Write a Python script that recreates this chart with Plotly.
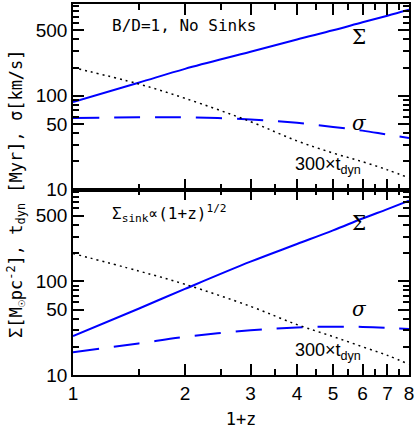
import plotly.graph_objects as go

# 1+z sample points
opz = [1, 1.5, 2, 3, 4, 5, 6, 7, 8]

# top panel: B/D=1, no sinks
sigma_gas_top = [86, 138, 194, 295, 400, 500, 610, 716, 830]
disp_top = [58, 59, 59, 56, 51.5, 46.5, 42.5, 38.5, 35.5]
tdyn_top = [200, 134, 94, 53, 33, 24.5, 19.8, 16.2, 13.3]

# bottom panel: sink ~ (1+z)^1/2
sigma_gas_bot = [26, 51, 83, 162, 250, 350, 468, 590, 725]
disp_bot = [17.5, 21.7, 25.5, 30, 32.2, 32.8, 32.6, 31.9, 31]
tdyn_bot = [198, 129, 93, 54, 34.5, 25.7, 20, 16.2, 13]

y_ticks = [10, 50, 100, 500]
y_minor = [20, 30, 40, 60, 70, 80, 90, 200, 300, 400, 600, 700, 800, 900]
x_ticks = [1, 2, 3, 4, 5, 6, 7, 8]
x_minor = [1.5, 2.5, 3.5, 4.5, 5.5, 6.5, 7.5]

BLUE = "#0000ff"
MONO = "DejaVu Sans Mono"
SANS = "Liberation Sans"

fig = go.Figure()

panels = [
    ("x", "y", sigma_gas_top, disp_top, tdyn_top),
    ("x2", "y2", sigma_gas_bot, disp_bot, tdyn_bot),
]
for xa, ya, sg, sd, td in panels:
    fig.add_trace(go.Scatter(x=opz, y=sg, mode="lines", xaxis=xa, yaxis=ya,
                             line=dict(color=BLUE, width=2, shape="spline")))
    fig.add_trace(go.Scatter(x=opz, y=sd, mode="lines", xaxis=xa, yaxis=ya,
                             line=dict(color=BLUE, width=2, dash="26px,15px", shape="spline")))
    fig.add_trace(go.Scatter(x=opz, y=td, mode="lines", xaxis=xa, yaxis=ya,
                             line=dict(color="black", width=1.5, dash="2px,4px", shape="spline")))

xbase = dict(type="log", range=[0, 0.90309], showgrid=False, zeroline=False,
             showline=True, linecolor="black", linewidth=1.5, mirror="ticks",
             ticks="inside", ticklen=11, tickwidth=1.5, tickcolor="black",
             tickvals=x_ticks, ticktext=[str(v) for v in x_ticks],
             minor=dict(tickvals=x_minor, ticks="inside", ticklen=6, tickwidth=1.5,
                        tickcolor="black", showgrid=False),
             tickfont=dict(family=SANS, size=19, color="black"))
ybase = dict(type="log", range=[1, 2.98], showgrid=False, zeroline=False,
             showline=True, linecolor="black", linewidth=1.5, mirror="ticks",
             ticks="inside", ticklen=11, tickwidth=1.5, tickcolor="black",
             tickvals=y_ticks, ticktext=[str(v) for v in y_ticks],
             minor=dict(tickvals=y_minor, ticks="inside", ticklen=6, tickwidth=1.5,
                        tickcolor="black", showgrid=False),
             tickfont=dict(family=SANS, size=19, color="black"))

fig.update_layout(
    width=416, height=429,
    margin=dict(l=73, r=6, t=2, b=53),
    plot_bgcolor="white", paper_bgcolor="white",
    showlegend=False,
    xaxis=dict(xbase, anchor="y", showticklabels=False),
    yaxis=dict(ybase, domain=[0.5, 1], anchor="x"),
    xaxis2=dict(xbase, anchor="y2", matches="x",
                title=dict(text="1+z", standoff=12,
                           font=dict(family=MONO, size=17, color="black"))),
    yaxis2=dict(ybase, domain=[0, 0.5], anchor="x2"),
)

def note(text, x, y, size=16, family=MONO, xanchor="left"):
    fig.add_annotation(text=text, x=x, y=y, xref="paper", yref="paper",
                       showarrow=False, xanchor=xanchor, yanchor="middle",
                       font=dict(family=family, size=size, color="black"))

note("B/D=1, No Sinks", 0.11, 0.941)
note("Σ<sub>sink</sub>∝(1+z)<sup>1/2</sup>", 0.11, 0.436)
for yoff in (0, 0.5):
    note("Σ", 0.852, 0.41 + yoff, size=20, family="DejaVu Serif", xanchor="center")
    note("<i>σ</i>", 0.852, 0.179 + yoff, size=20, family="DejaVu Serif", xanchor="center")
    note("300×t<sub>dyn</sub>", 0.76, 0.064 + yoff, size=18, family=SANS, xanchor="center")

fig.add_annotation(text="Σ[M<sub>☉</sub>pc<sup>-2</sup>], t<sub>dyn</sub> [Myr], σ[km/s]",
                   x=-0.17, y=0.49, xref="paper", yref="paper", textangle=-90,
                   showarrow=False, xanchor="center", yanchor="middle",
                   font=dict(family=MONO, size=17, color="black"))

# drop the default body margin so the figure sits at the window's corner
fig.write_html("out.html", config={"displayModeBar": False},
               post_script="document.body.style.margin='0';")
